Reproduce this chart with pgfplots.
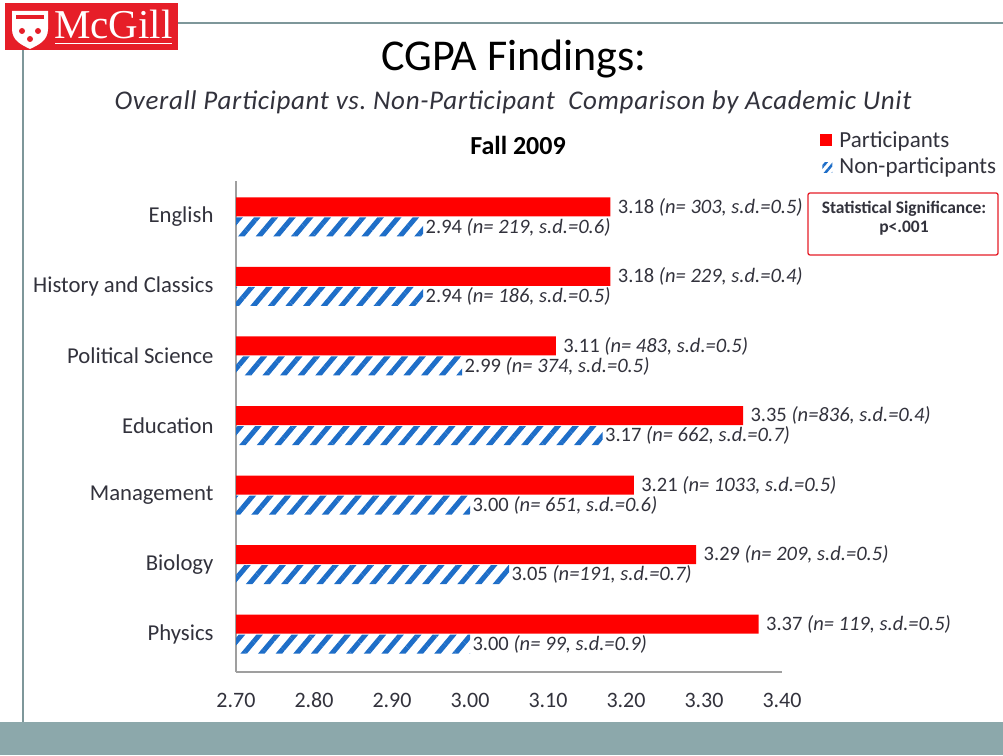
\documentclass[border=0pt]{standalone}
\usepackage{pgfplots}
\pgfplotsset{compat=1.18}
\usepackage{fontspec}
\setmainfont{Carlito}
\newfontfamily\logofont{Liberation Serif}
\newfontfamily\subfont[LetterSpace=2.5]{Carlito}
\usetikzlibrary{patterns.meta}
\definecolor{mgred}{RGB}{230,30,40}
\definecolor{barblue}{RGB}{30,110,200}
\definecolor{slate}{RGB}{140,168,171}
\definecolor{txt}{RGB}{50,50,60}
\begin{document}
\begin{tikzpicture}[x=1pt,y=1pt]
\useasboundingbox (0,0) rectangle (1003,755);
\fill[white] (0,0) rectangle (1003,755);
% slide decoration
\fill[slate] (0,0) rectangle (1003,33);
\draw[slate!90!black, line width=2.5pt] (178,732) -- (1003,732);
\draw[slate!90!black, line width=2.5pt] (23,705) -- (23,33);
% logo
\fill[mgred] (5,705) rectangle (178,752);
\fill[white] (12,744) -- (48,744) -- (48,726) .. controls (48,714) and (38,710) .. (30,706) .. controls (22,710) and (12,714) .. (12,726) -- cycle;
\fill[mgred] (16,736) rectangle (44,740);
\fill[mgred] (22,724) circle (3);
\fill[mgred] (38,724) circle (3);
\fill[mgred] (30,716) circle (3);
\node[anchor=base west, text=white, inner sep=0pt, font=\logofont\fontsize{41}{41}\selectfont] at (54,716) {McGill};
\draw[white, line width=0.6pt] (55,712) -- (172,712);
% titles
\node[anchor=base, inner sep=0pt, font=\fontsize{44}{48}\selectfont] at (514,684) {CGPA Findings:};
\node[anchor=base, inner sep=0pt, font=\subfont\itshape\fontsize{27}{30}\selectfont, text=txt] at (513,645) {Overall Participant vs.\ Non-Participant\ \ Comparison by Academic Unit};
\node[anchor=base, inner sep=0pt, font=\bfseries\fontsize{26}{28}\selectfont] at (518,600) {Fall 2009};
% significance box
\draw[mgred, line width=1.3pt, rounded corners=2pt] (808,500) rectangle (998,562);
\node[anchor=north, align=center, inner sep=0pt, font=\bfseries\fontsize{17.5}{19}\selectfont, text=txt] at (904,554) {Statistical Significance:\\ p<.001};
\begin{axis}[
  at={(236pt,83pt)}, anchor=south west,
  scale only axis, width=546pt, height=491pt,
  xmin=2.7, xmax=3.4, ymin=-0.545, ymax=6.517,
  axis x line*=bottom, axis y line*=left,
  axis line style={draw=gray!75, line width=1.3pt},
  major tick length=0pt,
  xtick={2.7,2.8,2.9,3.0,3.1,3.2,3.3,3.4},
  xticklabel={\pgfmathprintnumber[fixed,fixed zerofill,precision=2]{\tick}},
  /pgf/number format/assume math mode=true,
  xticklabel style={font=\fontsize{22}{24}\selectfont, text=txt, anchor=base, text height=14pt, text depth=0pt, yshift=-35pt},
  ytick={0,1,2,3,4,5,6},
  yticklabels={Physics,Biology,Management,Education,Political Science,History and Classics,English},
  yticklabel style={font=\fontsize{22.7}{24}\selectfont, text=txt, xshift=-19pt},
  clip mode=individual,
  xbar, bar width=19pt,
  point meta=explicit symbolic,
  nodes near coords,
  legend style={at={(1.07,1.106)}, anchor=north west, draw=none, fill=none,
    font=\fontsize{23}{25}\selectfont, text=txt, row sep=5pt, column sep=5pt, inner sep=0pt,
    cells={anchor=west}},
]
\addplot[fill=red, draw=none, bar shift=10pt,
  nodes near coords style={anchor=west, xshift=4pt, text=txt, font=\fontsize{20.5}{22}\selectfont},
  legend image code/.code={\fill[red] (0pt,-6pt) rectangle (12pt,6pt);}]
coordinates {
(3.37,0) [3.37 \textit{(n= 119, s.d.=0.5)}]
(3.29,1) [3.29 \textit{(n= 209, s.d.=0.5)}]
(3.21,2) [3.21 \textit{(n= 1033, s.d.=0.5)}]
(3.35,3) [3.35 \textit{(n=836, s.d.=0.4)}]
(3.11,4) [3.11 \textit{(n= 483, s.d.=0.5)}]
(3.18,5) [3.18 \textit{(n= 229, s.d.=0.4)}]
(3.18,6) [3.18 \textit{(n= 303, s.d.=0.5)}]
};
\addlegendentry{Participants}
\addplot[pattern={Lines[angle=50,distance=13.5pt,line width=5pt]}, pattern color=barblue, draw=none, bar shift=-10pt,
  nodes near coords style={anchor=west, xshift=-1pt, text=txt, font=\fontsize{20.5}{22}\selectfont},
  legend image code/.code={\fill[pattern={Lines[angle=50,distance=6pt,line width=2.5pt]}, pattern color=barblue] (2pt,-6pt) rectangle (12pt,4pt);}]
coordinates {
(3.00,0) [3.00 \textit{(n= 99, s.d.=0.9)}]
(3.05,1) [3.05 \textit{(n=191, s.d.=0.7)}]
(3.00,2) [3.00 \textit{(n= 651, s.d.=0.6)}]
(3.17,3) [3.17 \textit{(n= 662, s.d.=0.7)}]
(2.99,4) [2.99 \textit{(n= 374, s.d.=0.5)}]
(2.94,5) [2.94 \textit{(n= 186, s.d.=0.5)}]
(2.94,6) [2.94 \textit{(n= 219, s.d.=0.6)}]
};
\addlegendentry{Non-participants}
\end{axis}
\end{tikzpicture}
\end{document}
